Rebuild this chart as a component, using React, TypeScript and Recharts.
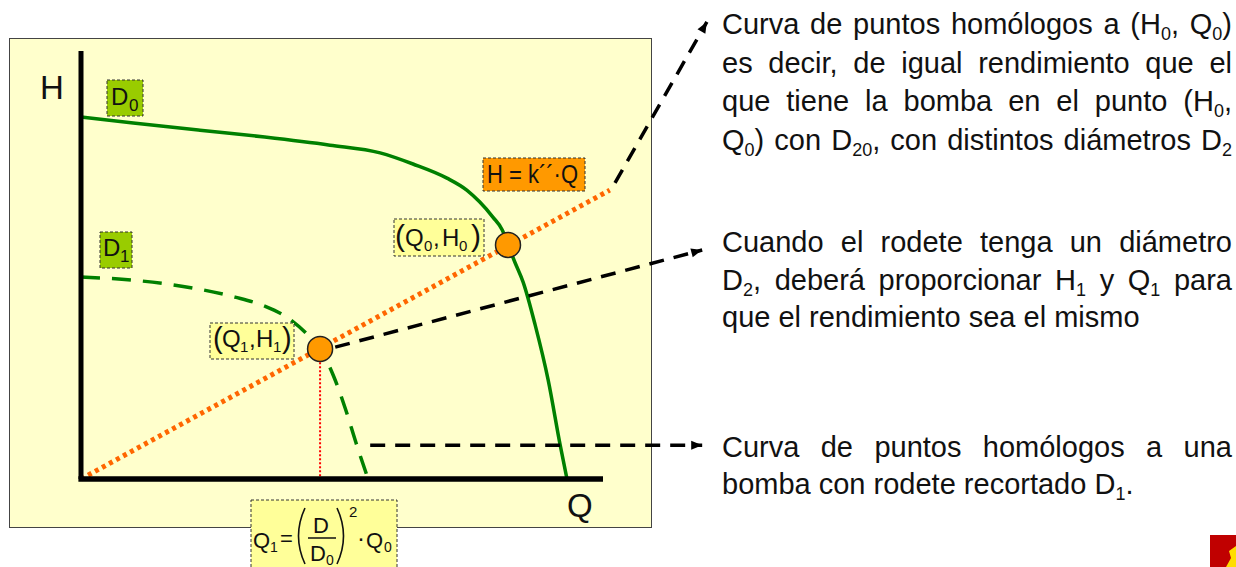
import React, { useLayoutEffect, useRef, useState } from 'react';
import { ComposedChart, Line, Scatter, XAxis, YAxis, ReferenceLine } from 'recharts';

const W = 1236;
const HGT = 567;

// where Q = 0, H = 0 sits and how many px one unit takes
const ORIGIN_X = 81;
const ORIGIN_Y = 479;
const PX_Q = 5.22;
const PX_H = 4.28;

// pump curve, full impeller D0
const d0Q = [0, 10.0, 22.8, 35.2, 47.7, 57.3, 63.6, 70.1, 73.9, 76.4, 78.9, 80.7, 81.8, 83.1, 84.7, 87.0, 89.5, 91.8, 93.1];
const d0H = [84.6, 83.2, 81.5, 79.9, 78.0, 76.2, 73.6, 70.3, 67.5, 64.7, 61.2, 58.2, 54.7, 50.7, 46.0, 36.0, 23.1, 7.9, 0];

// pump curve, trimmed impeller D1
const d1Q = [0, 11.3, 21.5, 29.5, 35.2, 39.7, 43.1, 45.8, 48.3, 50.6, 52.7, 55.0];
const d1H = [47.2, 46.3, 44.6, 42.5, 40.4, 37.6, 34.1, 30.4, 24.3, 16.6, 8.4, 0];

// homologous points line H = k''·Q
const homQ = [0, 101.3];
const homH = [0, 67.5];

// (Q0,H0) and (Q1,H1)
const pointQ = [81.8, 45.8];
const pointH = [54.7, 30.4];

// callout arrows
const arrowFromQ = [102.3, 48.7, 55.4];
const arrowFromH = [69.2, 30.8, 7.9];
const arrowToQ = [119.9, 119.0, 119.0];
const arrowToH = [106.8, 53.5, 7.9];

const AXIS_MAX = 100;

const zip = (qs: number[], hs: number[]) => qs.map((q, i) => ({ q, h: hs[i] }));
const d0Data = zip(d0Q, d0H);
const d1Data = zip(d1Q, d1H);
const homData = zip(homQ, homH);
const pointData = zip(pointQ, pointH);

const xDomain = [-ORIGIN_X / PX_Q, (W - ORIGIN_X) / PX_Q];
const yDomain = [-(HGT - ORIGIN_Y) / PX_H, ORIGIN_Y / PX_H];

const FONT = '"Liberation Sans", Arial, sans-serif';
const TXT = 29;
const SUB = 18;
const SUB_DY = 6;
const INK = '#111';

// right-hand notes, "_x" marks a subscript; j = justified
const note1 = [
  { t: 'Curva de puntos homólogos a (H_0, Q_0)', j: true },
  { t: 'es decir, de igual rendimiento que el', j: true },
  { t: 'que tiene la bomba en el punto (H_0,', j: true },
  { t: 'Q_0) con D_20, con distintos diámetros D_2', j: true },
];
const note2 = [
  { t: 'Cuando el rodete tenga un diámetro', j: true },
  { t: 'D_2, deberá proporcionar H_1 y Q_1 para', j: true },
  { t: 'que el rendimiento sea el mismo', j: false },
];
const note3 = [
  { t: 'Curva de puntos homólogos a una', j: true },
  { t: 'bomba con rodete recortado D_1.', j: false },
];

const runsOf = (word: string) =>
  word.split(/(_\d+)/).filter(s => s).map(s => (s.startsWith('_') ? { t: s.slice(1), sub: true } : { t: s, sub: false }));

function Word({ word, x, y }: { word: string; x: number; y: number }) {
  const runs = runsOf(word);
  return (
    <text x={x} y={y} fontFamily={FONT} fontSize={TXT} fill={INK}>
      {runs.map((r, i) => {
        const prevSub = i > 0 && runs[i - 1].sub;
        const dy = r.sub ? SUB_DY : prevSub ? -SUB_DY : 0;
        return (
          <tspan key={i} fontSize={r.sub ? SUB : TXT} dy={dy}>
            {r.t}
          </tspan>
        );
      })}
    </text>
  );
}

// lays the words out after measuring them, so justified lines fill left..right
function Note({ lines, baselines, left, right }: { lines: { t: string; j: boolean }[]; baselines: number[]; left: number; right: number }) {
  const ref = useRef<SVGGElement>(null);
  const [widths, setWidths] = useState<number[][] | null>(null);

  useLayoutEffect(() => {
    const g = ref.current;
    if (!g) return;
    const texts = Array.from(g.querySelectorAll('text')) as SVGTextElement[];
    let k = 0;
    setWidths(lines.map(l => l.t.split(' ').map(() => texts[k++].getComputedTextLength())));
  }, []);

  const space = TXT * 0.278;
  const out: React.ReactNode[] = [];
  lines.forEach((line, li) => {
    const words = line.t.split(' ');
    const ws = widths ? widths[li] : words.map(() => 0);
    const total = ws.reduce((a, b) => a + b, 0);
    const gap = line.j && words.length > 1 ? (right - left - total) / (words.length - 1) : space;
    let x = left;
    words.forEach((w, wi) => {
      out.push(<Word key={`${li}-${wi}`} word={w} x={x} y={baselines[li]} />);
      x += ws[wi] + gap;
    });
  });
  return <g ref={ref} opacity={widths ? 1 : 0}>{out}</g>;
}

const arrowHead = (k: number) => (props: any) => {
  const { cx, cy, index } = props;
  if (index !== 1) return <g key={`a${k}-${index}`} />;
  const dx = (arrowToQ[k] - arrowFromQ[k]) * PX_Q;
  const dy = -(arrowToH[k] - arrowFromH[k]) * PX_H;
  const a = (Math.atan2(dy, dx) * 180) / Math.PI;
  return (
    <polygon
      key={`a${k}-${index}`}
      points="0,0 -11,-4.5 -11,4.5"
      fill="#000"
      transform={`translate(${cx},${cy}) rotate(${a})`}
    />
  );
};

const Box = ({ x, y, w, h, fill }: { x: number; y: number; w: number; h: number; fill: string }) => (
  <rect x={x} y={y} width={w} height={h} fill={fill} stroke="#333" strokeWidth={1} strokeDasharray="3 2" />
);

export default function App() {
  return (
    <div style={{ position: 'fixed', left: 0, top: 0, width: W, height: HGT, overflow: 'hidden', background: '#fff' }}>
      <div
        style={{
          position: 'absolute',
          left: 9,
          top: 38,
          width: 641,
          height: 488,
          background: '#ffffcc',
          border: '1.5px solid #444',
        }}
      />
      <div style={{ position: 'absolute', left: 0, top: 0 }}>
        <ComposedChart width={W} height={HGT} margin={{ top: 0, right: 0, bottom: 0, left: 0 }}>
          <XAxis type="number" dataKey="q" domain={xDomain} allowDataOverflow hide />
          <YAxis type="number" dataKey="h" domain={yDomain} allowDataOverflow hide />
          <ReferenceLine segment={[{ x: pointQ[1], y: 27.3 }, { x: pointQ[1], y: 0 }]} stroke="#ff0000" strokeWidth={2} strokeDasharray="2 2" />
          <Line data={d1Data} dataKey="h" type="monotone" stroke="#008000" strokeWidth={3.5} strokeDasharray="19 12" dot={false} activeDot={false} isAnimationActive={false} />
          <Line data={d0Data} dataKey="h" type="monotone" stroke="#008000" strokeWidth={3.5} dot={false} activeDot={false} isAnimationActive={false} />
          <Line data={homData} dataKey="h" type="linear" stroke="#ff6600" strokeWidth={5} strokeDasharray="4 4" dot={false} activeDot={false} isAnimationActive={false} />
          {arrowFromQ.map((_, k) => (
            <Line
              key={`arrow${k}`}
              data={[{ q: arrowFromQ[k], h: arrowFromH[k] }, { q: arrowToQ[k], h: arrowToH[k] }]}
              dataKey="h"
              type="linear"
              stroke="#000"
              strokeWidth={3.5}
              strokeDasharray="15 10"
              dot={arrowHead(k)}
              activeDot={false}
              isAnimationActive={false}
            />
          ))}
          <ReferenceLine segment={[{ x: 0, y: 0 }, { x: 0, y: AXIS_MAX }]} stroke="#000" strokeWidth={5} />
          <ReferenceLine segment={[{ x: -0.5, y: 0 }, { x: AXIS_MAX, y: 0 }]} stroke="#000" strokeWidth={5.5} />
          <Scatter
            data={pointData}
            dataKey="h"
            isAnimationActive={false}
            shape={(p: any) => <circle cx={p.cx} cy={p.cy} r={12.5} fill="#ff9900" stroke="#222" strokeWidth={1.5} />}
          />
        </ComposedChart>
      </div>
      <svg width={W} height={HGT} style={{ position: 'absolute', left: 0, top: 0, pointerEvents: 'none' }}>
        <g fontFamily={FONT} fill={INK}>
          <text x={40} y={99} fontSize={33}>H</text>
          <text x={567} y={517} fontSize={33}>Q</text>

          <Box x={107} y={80} w={36} h={36} fill="#99cc00" />
          <text x={111} y={105} fontSize={24}>D</text>
          <text x={129} y={111} fontSize={17}>0</text>

          <Box x={100} y={232} w={32} h={36} fill="#99cc00" />
          <text x={103} y={256} fontSize={24}>D</text>
          <text x={120} y={262} fontSize={17}>1</text>

          <Box x={483} y={158} w={102} h={33} fill="#ff9900" />
          <text x={487} y={183} fontSize={25} textLength={91} lengthAdjust="spacingAndGlyphs">H = k´´·Q</text>

          <Box x={394} y={219} w={90} h={37} fill="#ffff99" />
          <text x={395} y={246} fontSize={30}>(</text>
          <text x={405} y={246} fontSize={24}>Q</text>
          <text x={424} y={251} fontSize={15}>0</text>
          <text x={433} y={246} fontSize={24}>,</text>
          <text x={442} y={246} fontSize={24}>H</text>
          <text x={459} y={251} fontSize={15}>0</text>
          <text x={471} y={246} fontSize={30}>)</text>

          <Box x={210} y={323} w={84} h={36} fill="#ffff99" />
          <text x={213} y={348} fontSize={29}>(</text>
          <text x={222} y={347} fontSize={24}>Q</text>
          <text x={240} y={352} fontSize={15}>1</text>
          <text x={249} y={347} fontSize={24}>,</text>
          <text x={256} y={347} fontSize={24}>H</text>
          <text x={273} y={352} fontSize={15}>1</text>
          <text x={282} y={348} fontSize={29}>)</text>

          <Box x={251} y={500} w={146} h={80} fill="#ffff99" />
          <text x={253} y={548} fontSize={22}>Q</text>
          <text x={270} y={552} fontSize={14}>1</text>
          <text x={280} y={546} fontSize={22}>=</text>
          <path d="M305,508 Q292,536 305,564" fill="none" stroke={INK} strokeWidth={1.6} />
          <text x={313} y={533} fontSize={22}>D</text>
          <line x1={308} y1={538} x2={336} y2={538} stroke={INK} strokeWidth={1.5} />
          <text x={310} y={561} fontSize={22}>D</text>
          <text x={326} y={565} fontSize={14}>0</text>
          <path d="M337,508 Q350,536 337,564" fill="none" stroke={INK} strokeWidth={1.6} />
          <text x={349} y={517} fontSize={15}>2</text>
          <text x={357} y={546} fontSize={24}>·</text>
          <text x={366} y={548} fontSize={22}>Q</text>
          <text x={384} y={552} fontSize={14}>0</text>
        </g>

        <Note lines={note1} baselines={[34, 72.7, 111.4, 150]} left={722} right={1232} />
        <Note lines={note2} baselines={[252, 289.5, 327]} left={722} right={1232} />
        <Note lines={note3} baselines={[457, 494]} left={722} right={1232} />

        <rect x={1210} y={535} width={26} height={32} fill="#c00000" />
        <polygon points="1229,551 1236,546 1236,567 1226,567 1231,558" fill="#ffdd00" />
      </svg>
    </div>
  );
}
